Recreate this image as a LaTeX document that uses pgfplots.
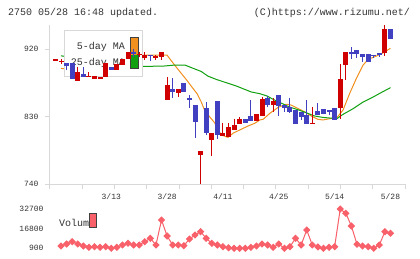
\documentclass[border=0pt]{standalone}
\usepackage{pgfplots}
\pgfplotsset{compat=1.18}
\usepackage{pgfplotstable}
\usepackage{fontspec}
\setmainfont{Liberation Mono}
\definecolor{cred}{HTML}{D00000}
\definecolor{cblue}{HTML}{4040C0}
\definecolor{corange}{HTML}{F0901E}
\definecolor{cgreen}{HTML}{10A010}
\definecolor{cvol}{HTML}{F8606A}
\definecolor{cgrid}{HTML}{D8D8D8}
\definecolor{ctext}{HTML}{333333}

% red (up) candles: x, body low, body high, wick low, wick high
\pgfplotstableread{
x lo hi l h
-1 905.4 906.6 906 906
0 903 904.3 899.6 907
3 877.5 889.5 877.5 896.5
5 883.2 884.5 883.2 889.8
6 880.5 884 880.5 884
7 880 882.5 880 882.5
8 882.4 901 882.4 901
10 892 899.6 892 899.6
11 898.6 906.3 898.6 906.3
12 906.7 915.6 906.7 915.6
14 912.3 913.6 909.8 915.6
15 907.6 912.4 905.5 916
17 908 911 906 912
18 909.8 916 906 916
19 851.7 871.7 851.7 883
21 861.4 866.9 855.6 867
25 779 784.3 740 784.3
27 799 808 777.6 808
29 804 808 804 821
30 803.3 815.8 803 821
31 812 818.4 812 827
32 820 827 820 829
35 824.6 833.5 824.6 833.5
36 831 853.5 831 855.6
38 845.5 851.3 836.6 854.4
45 820.3 821.8 820.3 842.4
50 841 880 826.3 899.6
51 898.6 916 878.3 916
58 915.1 946.5 911 951.8
}\redc

% blue (down) candles
\pgfplotstableread{
x lo hi l h
1 898 901 892 901
2 880 901 880 901
4 883.2 886.7 883.2 895.6
9 892.5 896.5 892.5 896.5
13 912.8 915.5 909 919.6
16 910.7 912.4 904 912.4
20 863 866.6 855 882
22 863 875 863 875
23 852.6 855.2 841 859.5
24 823.3 845.5 801 845.5
26 808 841 806 849
28 805.6 851 800 851
33 822 827 822 827
34 824.6 830.8 824.6 851.7
37 845.5 854.4 843 858
39 844.2 858.8 830.8 858.8
40 842 845.5 836.6 845.5
41 836.6 842.4 835.2 854.4
42 820.2 838.8 820.2 838.8
43 830 836.6 825.5 836.6
44 820.2 832.2 820.2 852
46 832.5 838 832.5 848.5
47 834 840 833 840
48 835.8 838.8 832 838.8
49 825.5 841 825.5 841
52 913.3 916 906.3 922.3
53 913 918.7 907.6 918.7
54 909.8 913.3 903 913.3
55 903 913.3 903 913.3
56 910.7 912.4 908.4 912.4
57 912 915 909 915
59 933 946.5 933 946.5
}\bluec

\pgfplotstableread{
x y
0 894.3
7 888
12 900
14.68 912
18.98 912
20.1 901
21.3 889.8
22.5 878.8
23.4 869.9
24.4 860.2
25.1 849.9
25.7 838.8
26.6 830
27.5 822
28.7 805.6
29.9 802.5
30.8 807.9
32 812.3
33.5 817.6
34.7 821.2
35.6 825.6
36.2 826.5
37.4 834.5
38.9 842.5
40.3 846.5
41.2 845.5
42.4 841.1
43.6 836.6
44.8 830.9
46 826.5
46.9 825.6
48.1 827.3
49.4 828.6
50.5 838.8
51.7 861.1
52.9 881
54.1 898.7
55 906.3
56.5 910.7
57.7 915.1
59 921
}\maf

\pgfplotstableread{
x y
0 911
7 903
14.7 896.9
18.3 897.3
20.4 898.7
22.2 898.7
23.1 896
24.3 892.5
25.1 890.2
26.3 884
27.8 879.6
29.6 875.2
31.4 870.8
32.6 867.2
34.1 862.8
35.6 860.6
36.9 857.5
38 853
39.4 848.2
40.9 842.9
42.4 839.3
43.9 835.3
45.4 830.9
46.9 829
48.1 828.2
49.4 827.3
50.5 833.1
52.3 840.6
54.1 849.5
55.9 856.2
57.3 861.9
59 868.6
}\mas

\pgfplotstableread{
x v
0 2760
1 4380
2 6240
3 4380
4 2760
5 1700
6 2200
7 1700
8 2200
9 900
10 1700
11 3570
12 4950
13 3570
14 3570
15 6240
16 9000
17 3570
18 23800
19 10850
20 3570
21 3570
22 3000
23 8420
24 11660
25 14330
26 9000
27 4950
28 3570
29 2200
30 1300
31 900
32 900
33 900
34 1700
35 2760
36 4380
37 3570
38 1700
39 4380
40 900
41 2200
42 9000
43 3570
44 15700
45 3570
46 2000
47 900
48 1700
49 2200
50 32700
51 29200
52 18940
53 4140
54 2760
55 2200
56 900
57 3570
58 14330
59 13040
}\vol

\pgfplotsset{
  candle/.style n args={2}{draw=none, mark=none, forget plot,
    error bars/.cd, y dir=both, y explicit, error mark=none,
    error bar style={draw=#1, line width=#2, solid}},
}

\begin{document}
\begin{tikzpicture}
\path[use as bounding box] (0,0) rectangle (420pt,259pt);
\node[anchor=base west, inner sep=0pt, text=ctext, font=\fontsize{10}{12}\selectfont] at (8pt,243pt) {2750 05/28 16:48 updated.};
\node[anchor=base east, inner sep=0pt, text=ctext, font=\fontsize{10}{12}\selectfont] at (410pt,243pt) {(C)https://www.rizumu.net/};

\begin{axis}[
  at={(50pt,74.7pt)}, anchor=south west,
  scale only axis, width=355pt, height=159.3pt,
  xmin=-1.97, xmax=61.6, ymin=740, ymax=952,
  axis x line*=bottom, axis y line*=left,
  axis line style={cgrid, line width=1pt, -},
  tick align=outside, major tick length=5pt,
  tick style={cgrid, line width=1pt},
  ytick={740,830,920}, yticklabels={740,830,920},
  xtick={-1.97,3.809,9.588,15.367,21.146,26.925,32.704,38.483,44.262,50.041,55.82,61.6},
  xticklabels={},
  extra x ticks={9,19,29,39,49,59},
  extra x tick labels={3/13,3/28,4/11,4/25,5/14,5/28},
  extra x tick style={major tick length=0pt},
  ticklabel style={font=\fontsize{8}{9}\selectfont, text=ctext},
  yticklabel style={xshift=-3pt},
  xticklabel style={yshift=-6pt},
  /pgf/number format/assume math mode=true,
  clip=true,
]
\addplot[corange, line width=1pt] table[x=x,y=y] {\maf};
\addplot[cgreen, line width=1pt] table[x=x,y=y] {\mas};
\draw[draw=cgrid, fill=white, line width=1pt] (axis cs:0.716,882.8) rectangle (axis cs:14.68,945.3);
\node[anchor=base east, inner sep=0pt, text=ctext, font=\fontsize{10}{12}\selectfont] at (axis cs:11.46,919.4) {5-day MA};
\node[anchor=base east, inner sep=0pt, text=ctext, font=\fontsize{10}{12}\selectfont] at (axis cs:11.46,898.1) {25-day MA};
\fill[corange] (axis cs:12.53,912.1) rectangle (axis cs:13.79,936);
\fill[cgreen] (axis cs:12.53,893.5) rectangle (axis cs:13.79,912.1);
\draw[draw=black!75, line width=1pt] (axis cs:12.53,893.5) rectangle (axis cs:13.79,936);
% wicks
\addplot[candle={cred}{1pt}]
  table[x=x, y expr={(\thisrow{l}+\thisrow{h})/2}, y error expr={(\thisrow{h}-\thisrow{l})/2}] {\redc};
\addplot[candle={cblue}{1pt}]
  table[x=x, y expr={(\thisrow{l}+\thisrow{h})/2}, y error expr={(\thisrow{h}-\thisrow{l})/2}] {\bluec};
% bodies
\addplot[candle={cred}{5pt}]
  table[x=x, y expr={(\thisrow{lo}+\thisrow{hi})/2}, y error expr={(\thisrow{hi}-\thisrow{lo})/2}] {\redc};
\addplot[candle={cblue}{5pt}]
  table[x=x, y expr={(\thisrow{lo}+\thisrow{hi})/2}, y error expr={(\thisrow{hi}-\thisrow{lo})/2}] {\bluec};
\end{axis}

\begin{axis}[
  at={(50pt,4pt)}, anchor=south west,
  scale only axis, width=355pt, height=50pt,
  xmin=-1.97, xmax=61.6, ymin=-4522, ymax=35940,
  axis line style={draw=none},
  major tick length=0pt, tick style={draw=none},
  xtick=\empty,
  ytick={900,16800,32700}, yticklabels={900,16800,32700},
  scaled y ticks=false,
  ticklabel style={font=\fontsize{8}{9}\selectfont, text=ctext},
  yticklabel style={xshift=-3pt},
  /pgf/number format/assume math mode=true,
  clip=false,
]
\node[anchor=base west, inner sep=0pt, text=ctext, font=\fontsize{10}{12}\selectfont] at (axis cs:-0.359,18380) {Volume};
\draw[draw=black!75, fill=cvol, line width=1pt] (axis cs:5.19,17327) rectangle (axis cs:6.27,29465);
\addplot[cvol, line width=1pt, mark=square*, mark size=2.1pt, mark options={rotate=45, fill=cvol, draw=cvol}] table[x=x,y=v] {\vol};
\end{axis}
\end{tikzpicture}
\end{document}
